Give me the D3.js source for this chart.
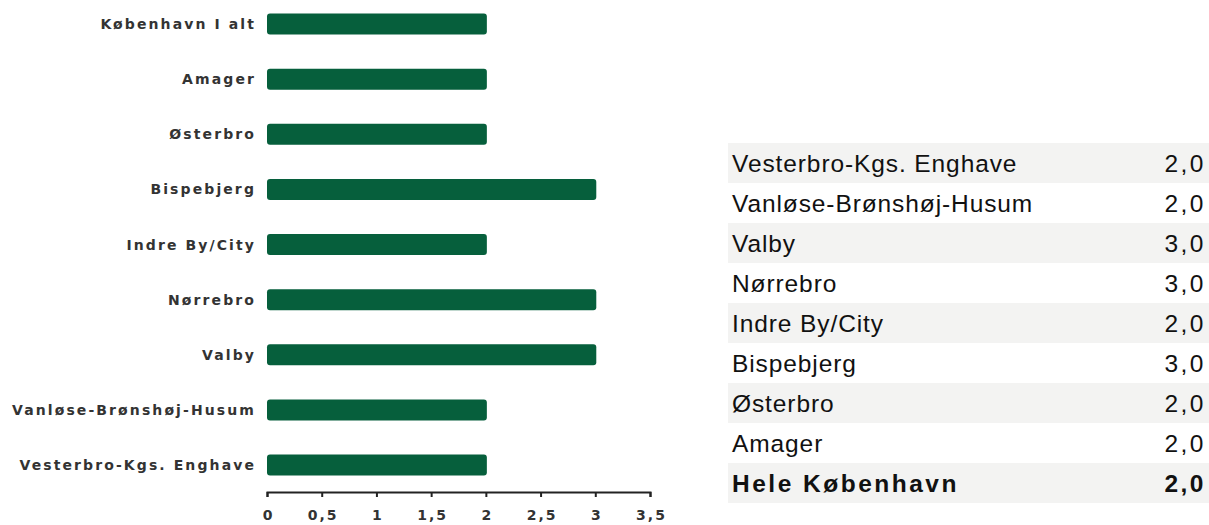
<!DOCTYPE html>
<html><head><meta charset="utf-8">
<script src="https://cdn.jsdelivr.net/npm/d3@7"></script>
<style>body{margin:0;background:#fff;}svg{display:block;}</style>
</head><body>
<svg id="c" width="1209" height="525"></svg>
<script>
const categories = ["København I alt","Amager","Østerbro","Bispebjerg","Indre By/City","Nørrebro","Valby","Vanløse-Brønshøj-Husum","Vesterbro-Kgs. Enghave"];
const values = [2,2,2,3,2,3,3,2,2];
const xTicks = [0,0.5,1,1.5,2,2.5,3,3.5];
const tableNames = ["Vesterbro-Kgs. Enghave","Vanløse-Brønshøj-Husum","Valby","Nørrebro","Indre By/City","Bispebjerg","Østerbro","Amager","Hele København"];
const tableValues = [2,2,3,3,2,3,2,2,2];

const svg = d3.select("#c");
const x = d3.scaleLinear().domain([0,3.5]).range([267,650]);
const y = d3.scaleBand().domain(categories).range([-3.5,492.6]).paddingInner(0.62).paddingOuter(0.31);
const fmt = v => String(v).replace(".", ",");

svg.append("g").selectAll("rect").data(values).join("rect")
  .attr("x", x(0)).attr("y", (d,i)=>y(categories[i]))
  .attr("width", d=>x(d)-x(0)+1).attr("height", y.bandwidth())
  .attr("rx",3).attr("fill","#065f3c");

svg.append("g").selectAll("text").data(categories).join("text")
  .attr("x",256).attr("y",d=>y(d)+y.bandwidth()/2)
  .attr("dy","0.36em").attr("text-anchor","end")
  .attr("font-family","DejaVu Sans").attr("font-weight","bold").attr("font-size",14)
  .attr("letter-spacing","2.1px").attr("fill","#333").text(d=>d);

const ax = svg.append("g").attr("transform","translate(0,492)")
  .call(d3.axisBottom(x).tickValues(xTicks).tickSize(5).tickFormat(fmt));
ax.select(".domain").attr("stroke","#222").attr("stroke-width",2);
ax.selectAll(".tick line").attr("stroke","#222").attr("stroke-width",2);
ax.selectAll(".tick text").attr("y",18).attr("dx","1px").attr("font-family","DejaVu Sans").attr("font-weight","bold")
  .attr("font-size",14).attr("letter-spacing","2px").attr("fill","#333");

const rowH = 40, tableTop = 143;
const tg = svg.append("g");
tg.selectAll("rect").data(tableNames).join("rect")
  .attr("x",728).attr("y",(d,i)=>tableTop+i*rowH).attr("width",481).attr("height",rowH)
  .attr("fill",(d,i)=> i%2===0 ? "#f3f3f2" : "#ffffff");
tg.selectAll("text.n").data(tableNames).join("text").attr("class","n")
  .attr("x",732).attr("y",(d,i)=>tableTop+i*rowH+rowH/2).attr("dy","0.36em")
  .attr("font-family","Liberation Sans, Arial").attr("font-size",24.5)
  .attr("font-weight",(d,i)=> i===tableNames.length-1 ? "bold" : "normal")
  .attr("letter-spacing",(d,i)=> i===tableNames.length-1 ? "2.5px" : "0.9px")
  .attr("fill","#111").text(d=>d);
tg.selectAll("text.v").data(tableValues).join("text").attr("class","v")
  .attr("x",1206).attr("y",(d,i)=>tableTop+i*rowH+rowH/2).attr("dy","0.36em")
  .attr("text-anchor","end")
  .attr("font-family","Liberation Sans, Arial").attr("font-size",24.5)
  .attr("font-weight",(d,i)=> i===tableValues.length-1 ? "bold" : "normal")
  .attr("letter-spacing","2.5px")
  .attr("fill","#111").text(d=>d3.format(".1f")(d).replace(".", ","));
</script>
</body></html>
